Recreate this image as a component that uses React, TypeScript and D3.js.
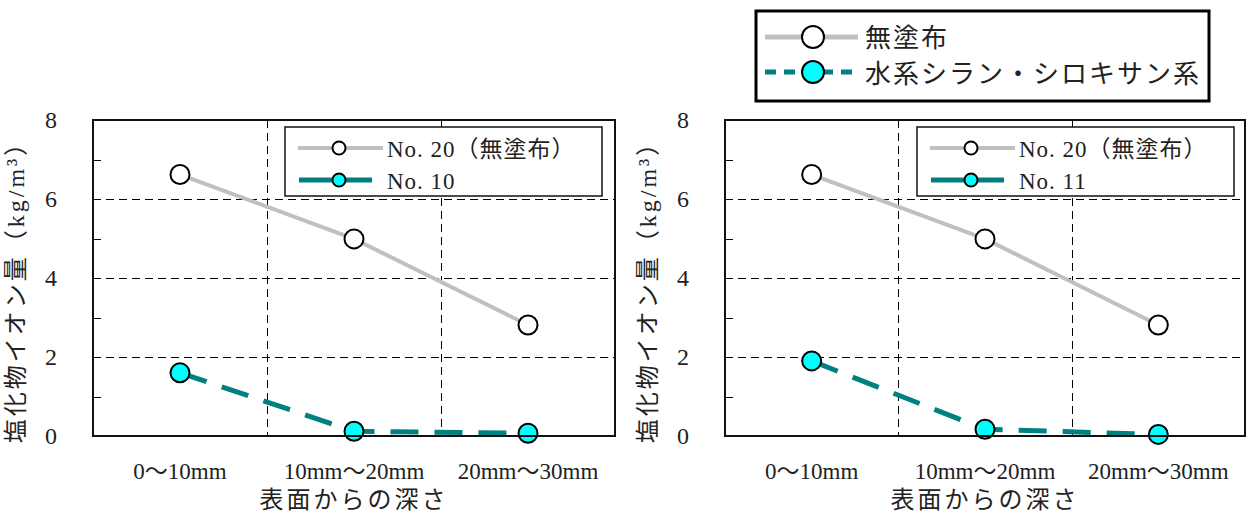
import React from "react";
import * as d3 from "d3";

const categories = ["0～10mm", "10mm～20mm", "20mm～30mm"];
const uncoated = [6.62, 4.99, 2.81];
const no10 = [1.6, 0.12, 0.07];
const no11 = [1.9, 0.17, 0.04];
const yTicks = [0, 2, 4, 6, 8];
const yMinor = [1, 3, 5, 7];
const panelSeries = [
  { name: "No. 10", values: no10 },
  { name: "No. 11", values: no11 },
];
const uncoatedName = "No. 20（無塗布）";
const mainLegend = ["無塗布", "水系シラン・シロキサン系"];
const yTitle = "塩化物イオン量（kg/m³）";
const xTitle = "表面からの深さ";

const FONT = "'Liberation Serif', 'Noto Sans CJK JP', serif";
const GRAY = "#c0c0c0";
const TEAL = "#008080";
const CYAN = "#00ffff";

const panels = [
  { x0: 93, x1: 615 },
  { x0: 725, x1: 1245 },
];
const Y0 = 436;
const Y1 = 120;

function Panel({ x0, x1, series }: { x0: number; x1: number; series: { name: string; values: number[] } }) {
  const y = d3.scaleLinear().domain([0, 8]).range([Y0, Y1]);
  const xb = d3.scaleBand().domain(categories).range([x0, x1]);
  const cx = (c: string) => (xb(c) as number) + xb.bandwidth() / 2;
  const line = d3
    .line<number>()
    .x((_, i) => cx(categories[i]))
    .y((v) => y(v))
    .curve(d3.curveLinear);
  const boundaries = categories.slice(1).map((c) => Math.round(xb(c) as number) + 0.5);
  const lx = x0 + 192;
  return (
    <g>
      {yTicks.slice(1, -1).map((t) => (
        <line key={t} x1={x0} x2={x1} y1={Math.round(y(t)) + 0.5} y2={Math.round(y(t)) + 0.5} stroke="#000" strokeWidth={1} strokeDasharray="8,5" />
      ))}
      {boundaries.map((b) => (
        <line key={b} x1={b} x2={b} y1={Y1} y2={Y0} stroke="#000" strokeWidth={1} strokeDasharray="8,5" />
      ))}
      {yMinor.map((t) => (
        <line key={t} x1={x0} x2={x0 + 8} y1={Math.round(y(t)) + 0.5} y2={Math.round(y(t)) + 0.5} stroke="#000" strokeWidth={1} />
      ))}
      {yTicks.map((t) => (
        <text key={t} x={x0 - 42} y={y(t) + 8} fontFamily={FONT} fontSize={24} textAnchor="middle" fill="#222">
          {t}
        </text>
      ))}
      <text
        transform={`translate(${x0 - 69},${(Y0 + Y1) / 2 + 8}) rotate(-90)`}
        fontFamily={FONT}
        fontSize={24}
        letterSpacing={3}
        textAnchor="middle"
        fill="#222"
      >
        {yTitle}
      </text>
      {categories.map((c) => (
        <text key={c} x={cx(c)} y={479} fontFamily={FONT} fontSize={23} textAnchor="middle" fill="#222">
          {c}
        </text>
      ))}
      <text x={(x0 + x1) / 2} y={508} fontFamily={FONT} fontSize={24} letterSpacing={3} textAnchor="middle" fill="#222">
        {xTitle}
      </text>
      <path d={line(uncoated) as string} fill="none" stroke={GRAY} strokeWidth={4} />
      <path d={line(series.values) as string} fill="none" stroke={TEAL} strokeWidth={5} strokeDasharray="28,16" />
      {uncoated.map((v, i) => (
        <circle key={"u" + i} cx={cx(categories[i])} cy={y(v)} r={9.5} fill="#fff" stroke="#000" strokeWidth={2} />
      ))}
      {series.values.map((v, i) => (
        <circle key={"s" + i} cx={cx(categories[i])} cy={y(v)} r={9.5} fill={CYAN} stroke="#000" strokeWidth={2} />
      ))}
      <rect x={x0} y={Y1} width={x1 - x0} height={Y0 - Y1} fill="none" stroke="#111" strokeWidth={2} />
      <rect x={lx} y={127} width={317} height={69} fill="#fff" stroke="#111" strokeWidth={1.5} />
      <line x1={lx + 13} x2={lx + 98} y1={148} y2={148} stroke={GRAY} strokeWidth={4} />
      <circle cx={lx + 54} cy={148} r={6.5} fill="#fff" stroke="#000" strokeWidth={2} />
      <text x={lx + 102} y={157} fontFamily={FONT} fontSize={23} fill="#222" letterSpacing={1}>
        {uncoatedName}
      </text>
      <line x1={lx + 14} x2={lx + 87} y1={180} y2={180} stroke={TEAL} strokeWidth={5} />
      <circle cx={lx + 54} cy={180} r={6.5} fill={CYAN} stroke="#000" strokeWidth={2} />
      <text x={lx + 102} y={189} fontFamily={FONT} fontSize={23} fill="#222" letterSpacing={1}>
        {series.name}
      </text>
    </g>
  );
}

export default function App() {
  return (
    <svg
      width={1252}
      height={520}
      style={{ position: "absolute", left: 0, top: 0, background: "#fff" }}
    >
      <rect width={1252} height={520} fill="#fff" />
      {panels.map((p, i) => (
        <Panel key={i} x0={p.x0} x1={p.x1} series={panelSeries[i]} />
      ))}
      <rect x={756} y={11} width={453} height={90} fill="#fff" stroke="#000" strokeWidth={3} />
      <line x1={765} x2={858} y1={37} y2={37} stroke={GRAY} strokeWidth={5} />
      <circle cx={813} cy={37} r={11} fill="#fff" stroke="#000" strokeWidth={2} />
      <text x={865} y={47} fontFamily={FONT} fontSize={26} letterSpacing={2} fill="#222">
        {mainLegend[0]}
      </text>
      <line x1={765} x2={858} y1={72} y2={72} stroke={TEAL} strokeWidth={5} strokeDasharray="11,8" />
      <circle cx={813} cy={72} r={11} fill={CYAN} stroke="#000" strokeWidth={2} />
      <text x={865} y={83} fontFamily={FONT} fontSize={26} letterSpacing={2} fill="#222">
        {mainLegend[1]}
      </text>
    </svg>
  );
}
